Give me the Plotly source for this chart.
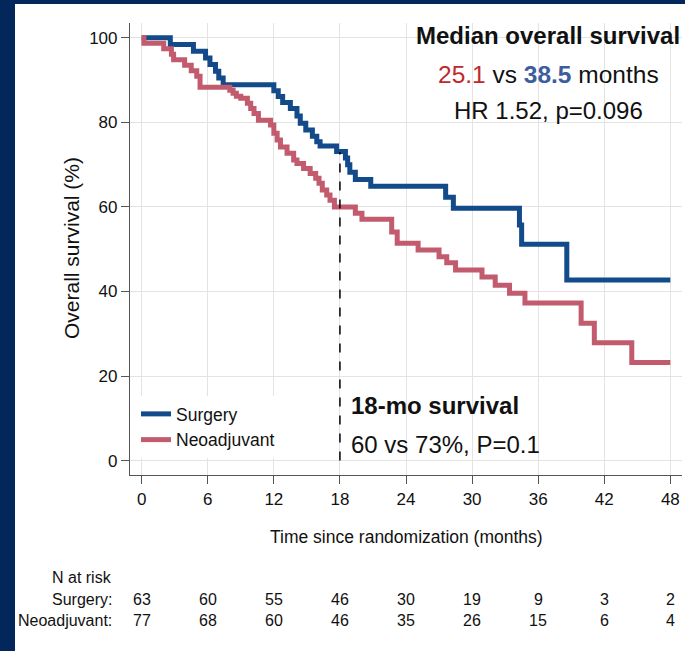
import plotly.graph_objects as go

# ---------------- data ----------------
surg_t = [0, 2.6, 4.7, 5.8, 6.2, 6.7, 7.0, 7.4, 12.0, 12.4, 12.8, 13.5, 14.1, 14.4, 14.9,
          15.5, 15.9, 16.2, 17.7, 18.5, 18.7, 18.9, 19.4, 20.8, 27.6, 28.3, 34.3, 34.5, 38.6, 48]
surg_s = [100, 98.4, 96.8, 95.2, 93.7, 92.1, 90.5, 88.9, 87.5, 86.1, 84.7, 83.3, 81.5, 79.8, 78.2,
          76.7, 75.4, 74.4, 73.1, 71.6, 70.0, 68.2, 66.5, 64.9, 62.3, 59.7, 55.7, 51.2, 42.7, 42.7]

neo_t = [0, 0.2, 2.0, 2.7, 2.9, 3.9, 4.5, 5.0, 5.3, 8.0, 8.3, 8.6, 9.0, 9.6, 9.9, 10.2, 10.6,
         11.7, 12.0, 12.3, 12.6, 13.2, 13.8, 14.1, 14.7, 15.3, 15.8, 16.1, 16.4, 16.8, 17.1, 17.5,
         19.4, 20.0, 22.7, 23.2, 25.1, 27.0, 27.7, 28.5, 30.9, 32.1, 33.4, 34.8, 39.9, 41.1, 44.5, 48]
neo_s = [100, 98.7, 97.4, 96.1, 94.8, 93.5, 92.2, 90.9, 88.3, 87.6, 86.9, 86.2, 85.7, 84.5, 83.3, 82.1, 80.5,
         79.4, 77.4, 75.8, 74.2, 72.7, 71.1, 70.3, 69.1, 67.9, 66.8, 65.6, 64.0, 62.8, 61.6, 60.0,
         58.5, 57.1, 54.1, 51.4, 49.8, 48.2, 46.8, 45.1, 43.4, 41.5, 39.6, 37.3, 32.5, 27.9, 23.2, 23.2]

x_ticks = [0, 6, 12, 18, 24, 30, 36, 42, 48]
y_ticks = [0, 20, 40, 60, 80, 100]
risk_times = [0, 6, 12, 18, 24, 30, 36, 42, 48]
surg_risk = [63, 60, 55, 46, 30, 19, 9, 3, 2]
neo_risk = [77, 68, 60, 46, 35, 26, 15, 6, 4]
risk_labels = ["N at risk", "Surgery:", "Neoadjuvant:"]
milestone_month = 18
milestone_surv = [60, 73]

# ---------------- style ----------------
NAVY_BG = "#03275a"
BLUE = "#124a8a"
RED = "#c25b6d"
FONT = "Liberation Sans, Arial, sans-serif"
W, H = 685, 651
ML, MR, MT, MB = 130, 3, 23, 176
PW, PH = W - ML - MR, H - MT - MB


def px(xp):
    return (xp - ML) / PW


def py(yp):
    return (H - MB - yp) / PH


fig = go.Figure()
fig.add_trace(go.Scatter(x=surg_t, y=surg_s, mode="lines", name="Surgery",
                         line=dict(color=BLUE, width=5, shape="hv")))
fig.add_trace(go.Scatter(x=neo_t, y=neo_s, mode="lines", name="Neoadjuvant",
                         line=dict(color=RED, width=5, shape="hv")))

shapes = [
    dict(type="rect", xref="paper", yref="paper", x0=px(15), x1=px(W + 5), y0=py(H + 5), y1=py(4),
         fillcolor="white", line=dict(width=0), layer="below"),
    dict(type="rect", xref="paper", yref="paper", x0=px(403), x1=1.0, y0=py(137), y1=1.0,
         fillcolor="white", line=dict(width=0), layer="between"),
    dict(type="rect", xref="paper", yref="paper", x0=px(339), x1=px(662), y0=py(463), y1=py(387),
         fillcolor="white", line=dict(width=0), layer="between"),
    dict(type="line", xref="x", yref="y", x0=milestone_month, x1=milestone_month,
         y0=0, y1=max(milestone_surv), line=dict(color="black", width=1.5, dash="dash"), layer="above"),
]

TXT = "#111"
ann = []
ann.append(dict(text="<b>Median overall survival</b>", x=px(548), y=py(36), xref="paper", yref="paper",
                showarrow=False, xanchor="center", yanchor="middle", font=dict(family=FONT, size=24, color=TXT)))
ann.append(dict(text="<span style='color:#c1272d'>25.1</span> vs <b><span style='color:#3c5e9e'>38.5</span></b> months",
                x=px(548), y=py(75), xref="paper", yref="paper",
                showarrow=False, xanchor="center", yanchor="middle", font=dict(family=FONT, size=24.5, color=TXT)))
ann.append(dict(text="HR 1.52, p=0.096", x=px(548), y=py(111), xref="paper", yref="paper",
                showarrow=False, xanchor="center", yanchor="middle", font=dict(family=FONT, size=24, color=TXT)))
ann.append(dict(text="<b>18-mo survival</b>", x=px(349), y=py(405), xref="paper", yref="paper",
                showarrow=False, xanchor="left", yanchor="middle", font=dict(family=FONT, size=24, color=TXT)))
ann.append(dict(text="60 vs 73%, P=0.1", x=px(349), y=py(444), xref="paper", yref="paper",
                showarrow=False, xanchor="left", yanchor="middle", font=dict(family=FONT, size=24, color=TXT)))

ann.append(dict(text="Time since randomization (months)", x=px(406), y=py(537), xref="paper", yref="paper",
                showarrow=False, xanchor="center", yanchor="middle", font=dict(family=FONT, size=17.5, color=TXT)))
ann.append(dict(text="Overall survival (%)", x=px(71), y=py(248), xref="paper", yref="paper", textangle=-90,
                showarrow=False, xanchor="center", yanchor="middle", font=dict(family=FONT, size=21, color=TXT)))

row_y = [577, 599, 620]
for lab, yy in zip(risk_labels, row_y):
    ann.append(dict(text=lab, x=px(114), y=py(yy), xref="paper", yref="paper", showarrow=False,
                    xanchor="right", yanchor="middle", font=dict(family=FONT, size=16, color=TXT)))
for t, a, b in zip(risk_times, surg_risk, neo_risk):
    ann.append(dict(text=str(a), x=t, y=py(row_y[1]), xref="x", yref="paper", showarrow=False,
                    xanchor="center", yanchor="middle", font=dict(family=FONT, size=16, color=TXT)))
    ann.append(dict(text=str(b), x=t, y=py(row_y[2]), xref="x", yref="paper", showarrow=False,
                    xanchor="center", yanchor="middle", font=dict(family=FONT, size=16, color=TXT)))

fig.update_layout(
    width=W, height=H,
    margin=dict(l=ML, r=MR, t=MT, b=MB, autoexpand=False),
    paper_bgcolor=NAVY_BG, plot_bgcolor="white",
    shapes=shapes, annotations=ann,
    showlegend=True,
    legend=dict(x=px(136), y=py(396), xanchor="left", yanchor="top", bgcolor="white",
                font=dict(family=FONT, size=17.5, color=TXT), tracegroupgap=0,
                itemwidth=30, borderwidth=0),
    xaxis=dict(range=[-1.06, 49.06], tickvals=x_ticks, ticks="outside", ticklen=8, tickwidth=1,
               tickcolor="#555", showline=True, linecolor="#555", linewidth=1.2, mirror=False,
               showgrid=True, gridcolor="#e3e3e3", gridwidth=1, zeroline=False,
               tickfont=dict(family=FONT, size=17, color=TXT)),
    yaxis=dict(range=[-3.4, 103.5], tickvals=y_ticks, ticks="outside", ticklen=8, tickwidth=1,
               tickcolor="#555", showline=True, linecolor="#555", linewidth=1.2, mirror=False,
               showgrid=True, gridcolor="#e3e3e3", gridwidth=1, zeroline=False,
               tickfont=dict(family=FONT, size=17, color=TXT)),
)

fig.write_html("out.html")
